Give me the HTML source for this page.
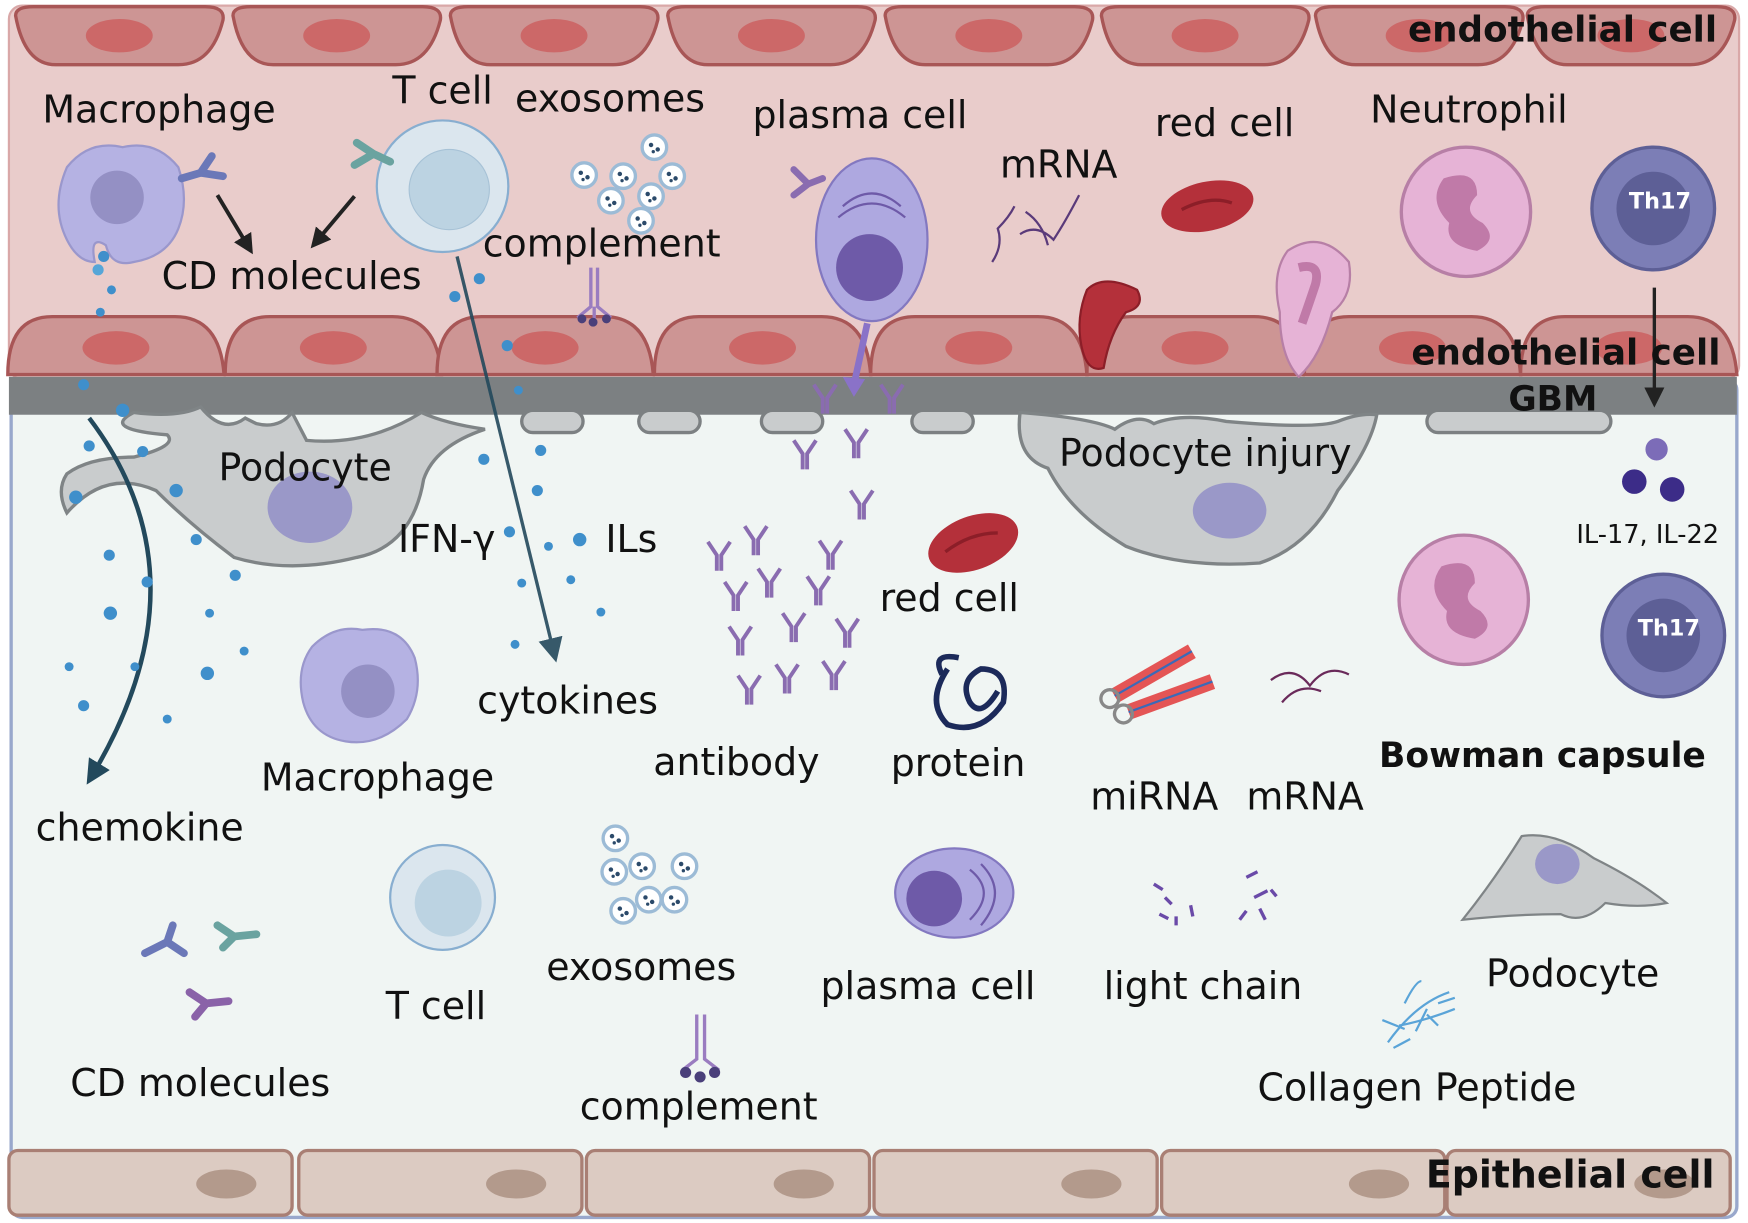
<!DOCTYPE html>
<html><head><meta charset="utf-8"><style>
html,body{margin:0;padding:0;background:#fff;}
svg{display:block;}
text{font-family:"DejaVu Sans","Liberation Sans",sans-serif;fill:#111;}
</style></head><body>
<svg width="1748" height="1223" viewBox="0 0 1568 1097" xmlns="http://www.w3.org/2000/svg">
<defs>
<marker id="ah" viewBox="0 0 10 10" markerWidth="18" markerHeight="18" refX="8" refY="5" orient="auto" markerUnits="userSpaceOnUse"><path d="M0,0 L10,5 L0,10 z" fill="#222"/></marker>
<marker id="ab" viewBox="0 0 10 10" markerWidth="22" markerHeight="22" refX="8" refY="5" orient="auto" markerUnits="userSpaceOnUse"><path d="M0,0 L10,5 L0,10 z" fill="#23495c"/></marker>
<g id="ec"><path d="M4,8 Q4,0 20,0 L174,0 Q192,0 190,12 Q180,52 150,52 L40,52 Q12,52 4,8z" fill="#cd9594" stroke="#a85656" stroke-width="3"/><ellipse cx="97" cy="26" rx="30" ry="15" fill="#cc6868"/></g>
<g id="ec2"><path d="M0,52 Q0,0 40,0 L150,0 Q190,0 194,52 z" fill="#cd9594" stroke="#a85656" stroke-width="3"/><ellipse cx="97" cy="28" rx="30" ry="15" fill="#cc6868"/></g>
<g id="ep"><rect x="0" y="0" width="254" height="58" rx="8" fill="#dccbc2" stroke="#a97f74" stroke-width="3"/><ellipse cx="195" cy="30" rx="27" ry="13" fill="#b39a8c"/></g>
<g id="exo"><circle r="11" fill="#fff" stroke="#9cbbd6" stroke-width="3"/><circle cx="-3" cy="-2" r="2" fill="#2b4a6a"/><circle cx="3" cy="2" r="2" fill="#2b4a6a"/><circle cx="-1" cy="4" r="1.5" fill="#2b4a6a"/></g>
<g id="ab1" stroke="#8a6cb0" stroke-width="3.5" fill="none"><path d="M-2,16 L-2,2 L-10,-10 M2,16 L2,2 L10,-10"/></g>
<g id="neu"><circle r="58" fill="#e6b3d6" stroke="#b77fa6" stroke-width="3"/><path d="M-20,-30 Q10,-40 10,-15 Q-5,0 15,10 Q30,25 10,35 Q-20,30 -15,10 Q-35,-10 -20,-30z" fill="#c07aa8"/></g>
<g id="th"><circle r="55" fill="#7c7eb6" stroke="#5d5f96" stroke-width="3"/><circle r="33" fill="#5d5f96"/></g>
</defs>
<rect x="8" y="5" width="1552" height="335" rx="12" fill="#e9cccb" stroke="#d9a8a8" stroke-width="2"/>
<rect x="10" y="340" width="1548" height="752" rx="10" fill="#f0f5f3" stroke="#99a8cc" stroke-width="3"/>
<use href="#ec" x="10" y="6"/><use href="#ec" x="205" y="6"/><use href="#ec" x="400" y="6"/><use href="#ec" x="595" y="6"/><use href="#ec" x="790" y="6"/><use href="#ec" x="984" y="6"/><use href="#ec" x="1176" y="6"/><use href="#ec" x="1366" y="6"/>
<use href="#ec2" x="7" y="284"/><use href="#ec2" x="202" y="284"/><use href="#ec2" x="392" y="284"/><use href="#ec2" x="587" y="284"/><use href="#ec2" x="781" y="284"/><use href="#ec2" x="975" y="284"/><use href="#ec2" x="1170" y="284"/><use href="#ec2" x="1364" y="284"/>
<rect x="8" y="338" width="1550" height="34" fill="#7c8082"/>
<g fill="#c9cccd" stroke="#7c8082" stroke-width="3">
<rect x="468" y="368" width="55" height="20" rx="10"/><rect x="573" y="368" width="55" height="20" rx="10"/><rect x="683" y="368" width="55" height="20" rx="10"/><rect x="818" y="368" width="55" height="20" rx="10"/><rect x="1280" y="368" width="165" height="20" rx="10"/>
</g>
<use href="#ep" x="8" y="1032"/><use href="#ep" x="268" y="1032"/><use href="#ep" x="526" y="1032"/><use href="#ep" x="784" y="1032"/><use href="#ep" x="1042" y="1032"/><use href="#ep" x="1298" y="1032"/>
<path d="M60,150 Q80,125 110,132 Q140,125 160,150 Q170,180 160,205 Q150,230 120,235 Q100,240 95,220 Q80,210 85,235 Q70,235 60,215 Q45,185 60,150z" fill="#b5b2e3" stroke="#9a97cc" stroke-width="2"/>
<circle cx="105" cy="177" r="24" fill="#9490c4"/>
<circle cx="93" cy="230" r="5" fill="#3f8fcb"/><circle cx="88" cy="242" r="5" fill="#56a6d8"/>
<path d="M163,160 L180,155 L190,140 M180,155 L200,158" stroke="#6b78b8" stroke-width="7" fill="none" stroke-linecap="round"/>
<line x1="195" y1="175" x2="225" y2="225" stroke="#222" stroke-width="3.5" marker-end="url(#ah)"/>
<line x1="318" y1="176" x2="281" y2="220" stroke="#222" stroke-width="3.5" marker-end="url(#ah)"/>
<circle cx="397" cy="167" r="59" fill="#dbe6ee" stroke="#88aed0" stroke-width="2"/>
<circle cx="403" cy="170" r="36" fill="#bcd3e2" stroke="#a7c2d6"/>
<path d="M350,145 L335,138 L320,128 M335,138 L318,148" stroke="#6aa3a0" stroke-width="7" fill="none" stroke-linecap="round"/>
<use href="#exo" x="587" y="132"/><use href="#exo" x="524" y="157"/><use href="#exo" x="559" y="158"/><use href="#exo" x="603" y="158"/><use href="#exo" x="548" y="180"/><use href="#exo" x="584" y="176"/><use href="#exo" x="575" y="198"/>
<g stroke="#9a7cc0" stroke-width="3" fill="none"><path d="M530,240 L530,275 L518,285 M536,240 L536,275 L548,285 M533,275 L533,288"/></g>
<circle cx="522" cy="286" r="4" fill="#4a3f7a"/><circle cx="532" cy="289" r="4" fill="#4a3f7a"/><circle cx="544" cy="286" r="4" fill="#4a3f7a"/>
<ellipse cx="782" cy="215" rx="50" ry="73" fill="#aea8e0" stroke="#8378c0" stroke-width="2"/>
<circle cx="780" cy="240" r="30" fill="#6e5aa8"/>
<path d="M752,195 Q782,170 812,195 M756,185 Q782,162 808,185" stroke="#6e5aa8" stroke-width="2" fill="none"/>
<path d="M738,160 L725,165 L712,152 M725,165 L712,175" stroke="#8a6cb0" stroke-width="6" fill="none" stroke-linecap="round"/>
<line x1="778" y1="290" x2="766" y2="345" stroke="#8a72c8" stroke-width="6"/><path d="M756,338 L766,356 L776,340z" fill="#8a72c8"/>
<path d="M890,235 Q900,220 895,205 Q905,195 910,185 M915,210 Q930,200 945,215 Q955,200 968,175 M920,190 Q935,200 940,220" stroke="#5a3a7a" stroke-width="2" fill="none"/>
<ellipse cx="1083" cy="185" rx="42" ry="22" fill="#b4303a" transform="rotate(-12 1083 185)"/>
<path d="M1060,188 Q1085,175 1105,182" stroke="#8c1e28" stroke-width="3" fill="none"/>
<path d="M975,260 Q990,245 1020,260 Q1028,275 1010,280 Q995,300 990,330 Q975,335 970,310 Q965,285 975,260z" fill="#b4303a" stroke="#8c1e28" stroke-width="2"/>
<path d="M1155,225 Q1185,205 1210,235 Q1215,265 1195,280 Q1185,320 1165,338 Q1148,320 1148,280 Q1140,245 1155,225z" fill="#e6b3d6" stroke="#b77fa6" stroke-width="2"/>
<path d="M1165,240 Q1185,235 1180,255 Q1175,270 1168,290" stroke="#c07aa8" stroke-width="8" fill="none"/>
<use href="#neu" x="1315" y="190"/>
<use href="#th" x="1483" y="187"/>
<text x="1489" y="187" text-anchor="middle" font-size="20" font-weight="bold" style="fill:#fff">Th17</text>
<line x1="1484" y1="258" x2="1484" y2="362" stroke="#222" stroke-width="3" marker-end="url(#ah)"/>
<path d="M180,365 Q200,390 220,375 L230,380 Q250,385 262,370 L275,395 Q330,400 378,370 Q400,380 435,385 Q390,400 380,430 Q370,490 320,500 Q260,515 210,500 Q170,470 140,440 Q95,420 60,460 Q50,440 60,425 Q80,410 120,410 Q160,400 150,390 Q90,385 120,370 Q160,375 180,365z" fill="#c9cccd" stroke="#7f8486" stroke-width="3"/>
<ellipse cx="278" cy="455" rx="38" ry="32" fill="#9a98c8"/>
<path d="M915,370 Q980,375 1000,385 Q1020,370 1035,380 Q1060,370 1100,378 Q1180,385 1200,378 Q1220,370 1235,372 Q1230,400 1200,440 Q1175,490 1130,505 Q1060,510 1010,490 Q960,460 940,420 Q910,410 915,370z" fill="#c9cccd" stroke="#7f8486" stroke-width="3"/>
<ellipse cx="1103" cy="458" rx="33" ry="25" fill="#9a98c8"/>
<path d="M80,375 Q190,520 80,700" stroke="#23495c" stroke-width="4" fill="none" marker-end="url(#ab)"/>
<path d="M410,230 L498,590" stroke="#23495c" stroke-width="3" fill="none" marker-end="url(#ab)" opacity="0.9"/>
<g fill="#3f8fcb">
<circle cx="75" cy="345" r="5"/><circle cx="110" cy="368" r="6"/><circle cx="80" cy="400" r="5"/><circle cx="128" cy="405" r="5"/><circle cx="158" cy="440" r="6"/><circle cx="68" cy="446" r="6"/><circle cx="176" cy="484" r="5"/><circle cx="98" cy="498" r="5"/><circle cx="132" cy="522" r="5"/><circle cx="211" cy="516" r="5"/><circle cx="99" cy="550" r="6"/><circle cx="188" cy="550" r="4"/><circle cx="219" cy="584" r="4"/><circle cx="186" cy="604" r="6"/><circle cx="62" cy="598" r="4"/><circle cx="121" cy="598" r="4"/><circle cx="75" cy="633" r="5"/><circle cx="150" cy="645" r="4"/>
<circle cx="100" cy="260" r="4"/><circle cx="90" cy="280" r="4"/><circle cx="408" cy="266" r="5"/><circle cx="430" cy="250" r="5"/><circle cx="455" cy="310" r="5"/><circle cx="465" cy="350" r="4"/><circle cx="434" cy="412" r="5"/><circle cx="485" cy="404" r="5"/><circle cx="482" cy="440" r="5"/><circle cx="457" cy="477" r="5"/><circle cx="520" cy="484" r="6"/><circle cx="492" cy="490" r="4"/><circle cx="512" cy="520" r="4"/><circle cx="539" cy="549" r="4"/><circle cx="468" cy="523" r="4"/><circle cx="462" cy="578" r="4"/>
</g>
<use href="#ab1" x="740" y="355"/><use href="#ab1" x="800" y="355"/><use href="#ab1" x="768" y="395"/><use href="#ab1" x="722" y="405"/><use href="#ab1" x="773" y="450"/><use href="#ab1" x="745" y="495"/><use href="#ab1" x="690" y="520"/><use href="#ab1" x="645" y="496"/><use href="#ab1" x="678" y="482"/><use href="#ab1" x="660" y="532"/><use href="#ab1" x="712" y="560"/><use href="#ab1" x="760" y="565"/><use href="#ab1" x="664" y="572"/><use href="#ab1" x="706" y="606"/><use href="#ab1" x="672" y="616"/><use href="#ab1" x="748" y="603"/><use href="#ab1" x="734" y="527"/>
<ellipse cx="873" cy="487" rx="42" ry="24" fill="#b4303a" transform="rotate(-20 873 487)"/>
<path d="M848,495 Q870,478 895,478" stroke="#8c1e28" stroke-width="3" fill="none"/>
<path d="M850,600 Q830,630 850,650 Q880,660 900,630 Q905,600 880,600 Q860,610 870,630 Q880,645 895,620 M845,605 Q835,585 860,590" stroke="#1c2a5a" stroke-width="5" fill="none"/>
<g transform="rotate(-30 1035 605)"><rect x="995" y="597" width="80" height="14" fill="#e45555"/><rect x="995" y="603" width="80" height="2" fill="#3a6ab8"/><circle cx="990" cy="604" r="8" fill="none" stroke="#888" stroke-width="3"/></g>
<g transform="rotate(-20 1050 625)"><rect x="1010" y="618" width="80" height="14" fill="#e45555"/><rect x="1010" y="624" width="80" height="2" fill="#3a6ab8"/><circle cx="1005" cy="625" r="8" fill="none" stroke="#888" stroke-width="3"/></g>
<path d="M1140,610 Q1160,595 1175,615 Q1190,595 1210,605 M1150,630 Q1165,612 1185,620" stroke="#6a2a5a" stroke-width="2" fill="none"/>
<use href="#neu" x="1313" y="538"/>
<circle cx="1486" cy="403" r="10" fill="#7c6cb8"/><circle cx="1466" cy="432" r="11" fill="#3c2c88"/><circle cx="1500" cy="439" r="11" fill="#3c2c88"/>
<use href="#th" x="1492" y="570"/>
<text x="1497" y="570" text-anchor="middle" font-size="20" font-weight="bold" style="fill:#fff">Th17</text>
<path d="M280,580 Q300,560 325,565 Q360,560 372,590 Q380,620 365,645 Q340,670 310,665 Q280,660 272,630 Q265,600 280,580z" fill="#b5b2e3" stroke="#9a97cc" stroke-width="2"/>
<circle cx="330" cy="620" r="24" fill="#9490c4"/>
<circle cx="397" cy="805" r="47" fill="#dbe6ee" stroke="#88aed0" stroke-width="2"/>
<circle cx="402" cy="810" r="30" fill="#bcd3e2"/>
<path d="M130,855 L150,845 L155,830 M150,845 L165,855" stroke="#6b78b8" stroke-width="7" fill="none" stroke-linecap="round"/>
<path d="M195,830 L210,840 L230,838 M210,840 L200,850" stroke="#6aa3a0" stroke-width="7" fill="none" stroke-linecap="round"/>
<path d="M170,890 L185,900 L205,898 M185,900 L175,912" stroke="#8a62a8" stroke-width="7" fill="none" stroke-linecap="round"/>
<use href="#exo" x="552" y="752"/><use href="#exo" x="551" y="782"/><use href="#exo" x="576" y="777"/><use href="#exo" x="614" y="777"/><use href="#exo" x="582" y="807"/><use href="#exo" x="605" y="807"/><use href="#exo" x="559" y="817"/>
<g stroke="#9a7cc0" stroke-width="3" fill="none"><path d="M625,910 L625,950 L612,960 M632,910 L632,950 L645,960"/></g>
<circle cx="615" cy="962" r="5" fill="#4a3f7a"/><circle cx="628" cy="966" r="5" fill="#4a3f7a"/><circle cx="641" cy="962" r="5" fill="#4a3f7a"/>
<ellipse cx="856" cy="801" rx="53" ry="40" fill="#aea8e0" stroke="#8378c0" stroke-width="2"/>
<circle cx="838" cy="806" r="25" fill="#6e5aa8"/>
<path d="M870,780 Q895,800 870,825 M880,775 Q905,800 880,830" stroke="#6e5aa8" stroke-width="2" fill="none"/>
<g stroke="#6a4aa8" stroke-width="3"><path d="M1035,793 l8,5 M1045,805 l6,6 M1040,820 l8,4 M1055,822 l0,8 M1068,812 l2,10 M1118,787 l10,-5 M1125,805 l12,-6 M1112,825 l6,-8 M1130,815 l5,10 M1140,798 l5,6"/></g>
<g stroke="#5aa4d8" stroke-width="2" fill="none"><path d="M1245,935 Q1270,900 1300,890 M1255,920 Q1280,915 1305,905 M1260,900 Q1270,880 1275,880 M1240,915 l20,8 M1270,925 l10,-20 M1290,900 l15,-5 M1250,940 l15,-8 M1280,910 l10,10"/></g>
<path d="M1312,825 Q1340,790 1365,750 Q1395,745 1430,770 Q1470,790 1495,810 Q1470,815 1440,810 Q1420,830 1400,820 Q1360,820 1312,825z" fill="#c9cccd" stroke="#7f8486" stroke-width="2"/>
<ellipse cx="1397" cy="775" rx="20" ry="18" fill="#9a98c8"/>
<g font-size="34">
<text x="38" y="110">Macrophage</text>
<text x="352" y="93">T cell</text>
<text x="462" y="100">exosomes</text>
<text x="675" y="115">plasma cell</text>
<text x="1036" y="122">red cell</text>
<text x="1229" y="110">Neutrophil</text>
<text x="897" y="159">mRNA</text>
<text x="433" y="230">complement</text>
<text x="145" y="259">CD molecules</text>
<text x="196" y="431">Podocyte</text>
<text x="357" y="495">IFN-γ</text>
<text x="543" y="495">ILs</text>
<text x="950" y="418">Podocyte injury</text>
<text x="789" y="548">red cell</text>
<text x="428" y="640">cytokines</text>
<text x="586" y="695">antibody</text>
<text x="799" y="696">protein</text>
<text x="234" y="709">Macrophage</text>
<text x="978" y="726">miRNA</text>
<text x="1118" y="726">mRNA</text>
<text x="32" y="754">chemokine</text>
<text x="490" y="879">exosomes</text>
<text x="736" y="896">plasma cell</text>
<text x="990" y="896">light chain</text>
<text x="1333" y="885">Podocyte</text>
<text x="346" y="914">T cell</text>
<text x="63" y="983">CD molecules</text>
<text x="1128" y="987">Collagen Peptide</text>
<text x="520" y="1004">complement</text>
</g>
<g font-weight="bold">
<text x="1263" y="37" font-size="32">endothelial cell</text>
<text x="1266" y="327" font-size="32">endothelial cell</text>
<text x="1353" y="368" font-size="31">GBM</text>
<text x="1237" y="688" font-size="31">Bowman capsule</text>
<text x="1279" y="1065" font-size="34">Epithelial cell</text>
</g>
<text x="1414" y="487" font-size="23">IL-17, IL-22</text>
</svg>
</body></html>
